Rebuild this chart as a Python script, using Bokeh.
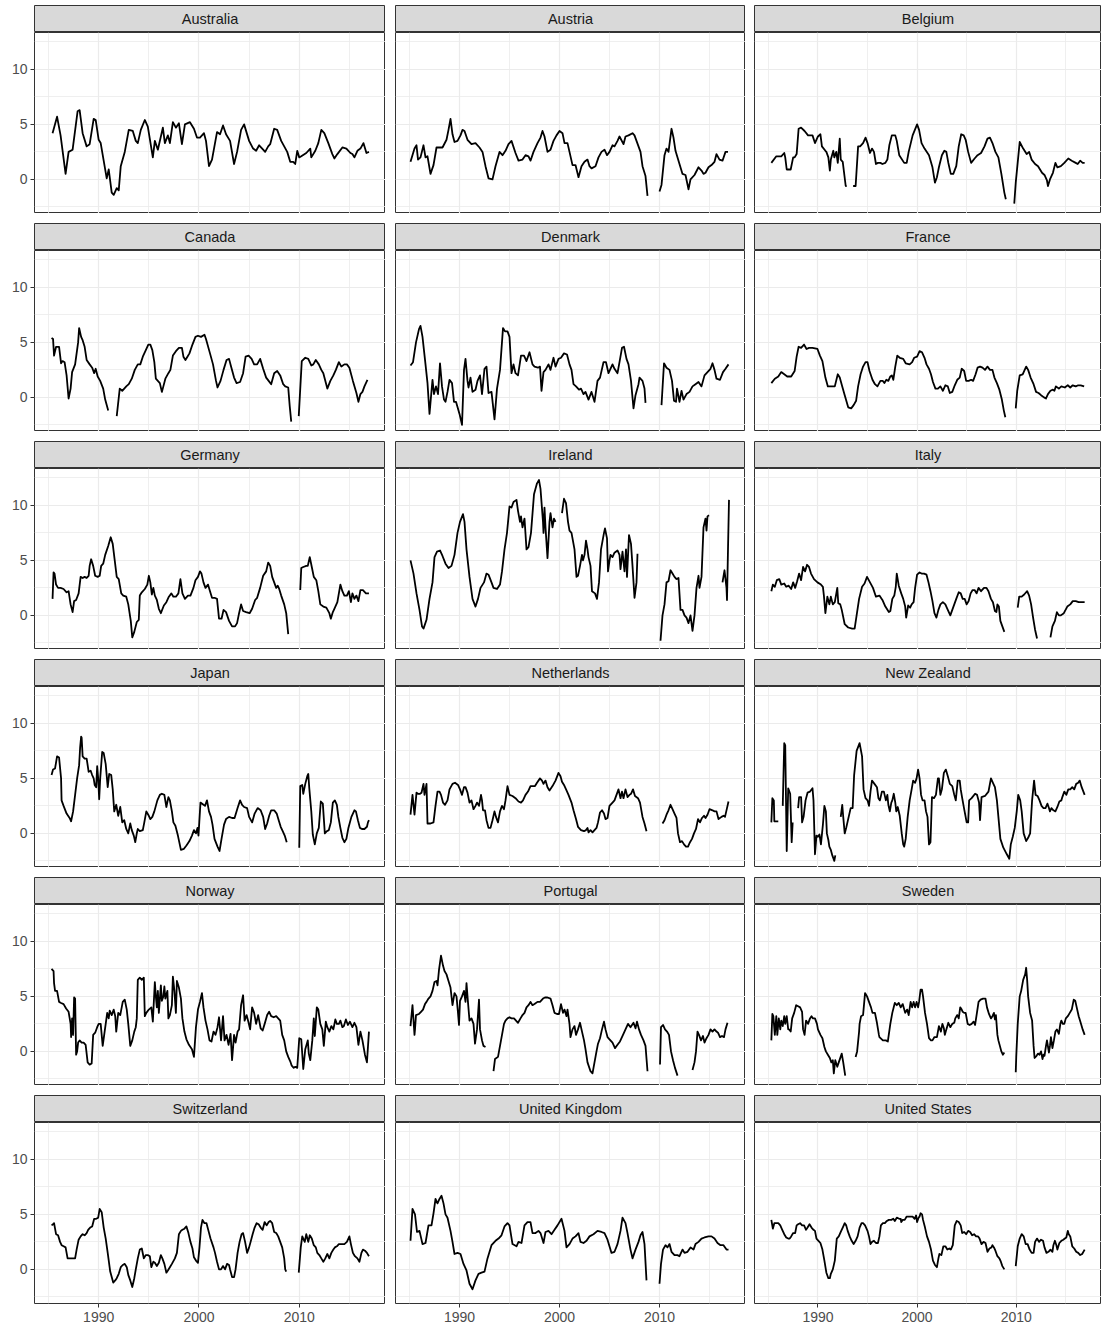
import math
from bokeh.plotting import figure
from bokeh.layouts import gridplot
from bokeh.models import Range1d, FixedTicker
from bokeh.embed import file_html
from bokeh.resources import INLINE
from bokeh.core.properties import value

GAP = None  # break in the series

AUSTRALIA = [(1985.4,4.2),(1985.85,5.7),(1986.2,4.0),(1986.7,0.5),(1987.0,2.5),(1987.4,2.7),(1987.9,6.2),(1988.1,6.3),(1988.4,4.2),(1988.8,3.0),(1989.1,3.2),(1989.5,5.5),(1989.7,5.4),(1990.0,3.6),(1990.2,3.3),(1990.8,0.1),(1991.0,0.9),(1991.3,-1.2),(1991.5,-1.4),(1991.8,-0.8),(1992.0,-1.0),(1992.2,1.2),(1992.6,2.5),(1993.0,4.5),(1993.4,4.4),(1993.7,3.5),(1993.9,3.3),(1994.2,4.5),(1994.6,5.4),(1994.9,4.8),(1995.4,2.0),(1995.6,3.5),(1995.9,2.7),(1996.4,4.7),(1996.6,3.3),(1996.9,4.0),(1997.1,3.3),(1997.4,5.2),(1997.7,4.7),(1998.0,5.1),(1998.3,3.2),(1998.6,5.0),(1999.1,5.2),(1999.5,4.6),(1999.8,3.8),(2000.1,3.8),(2000.5,4.2),(2000.7,3.5),(2001.0,1.2),(2001.3,1.8),(2001.8,4.3),(2002.1,4.1),(2002.4,4.9),(2002.7,4.1),(2003.1,3.5),(2003.5,1.4),(2003.8,2.5),(2004.2,4.5),(2004.5,5.0),(2005.0,3.5),(2005.4,2.8),(2005.7,2.6),(2006.0,3.1),(2006.4,2.7),(2006.6,2.5),(2006.9,3.0),(2007.1,3.2),(2007.5,4.6),(2007.8,4.5),(2008.2,3.5),(2008.5,3.0),(2008.8,2.5),(2009.1,1.6),(2009.4,1.6),(2009.6,1.4),(2009.8,2.6),(2010.0,2.0),(2010.2,2.1),(2010.7,2.4),(2011.1,2.8),(2011.2,2.0),(2011.6,2.6),(2011.9,3.3),(2012.2,4.5),(2012.5,4.2),(2012.9,3.3),(2013.3,2.3),(2013.5,1.9),(2013.8,2.3),(2014.3,2.9),(2014.7,2.8),(2015.1,2.4),(2015.3,2.3),(2015.5,2.0),(2015.8,2.6),(2016.1,2.8),(2016.4,3.3),(2016.7,2.4),(2016.95,2.5)]

AUSTRIA = [(1985.1,1.6),(1985.5,2.8),(1985.7,3.1),(1985.85,1.8),(1986.1,2.0),(1986.4,3.1),(1986.6,2.0),(1986.8,2.1),(1987.1,0.5),(1987.4,1.3),(1987.7,2.9),(1988.05,2.9),(1988.3,2.9),(1988.7,3.6),(1988.9,4.5),(1989.1,5.5),(1989.3,4.1),(1989.5,3.4),(1989.8,3.5),(1990.1,4.0),(1990.3,4.5),(1990.5,4.4),(1990.8,3.6),(1991.2,3.2),(1991.6,3.3),(1992.0,2.9),(1992.3,2.5),(1992.6,1.2),(1992.9,0.1),(1993.3,0.0),(1993.6,1.2),(1994.0,2.5),(1994.3,2.2),(1994.6,2.6),(1994.9,3.2),(1995.2,3.5),(1995.6,2.4),(1995.9,1.7),(1996.3,1.8),(1996.6,2.2),(1996.9,2.1),(1997.1,1.7),(1997.4,2.5),(1997.8,3.3),(1998.1,3.8),(1998.3,4.4),(1998.5,3.9),(1998.8,2.5),(1999.1,2.7),(1999.4,3.5),(1999.7,4.0),(2000.0,4.4),(2000.3,4.2),(2000.5,3.3),(2000.8,3.3),(2001.0,2.5),(2001.3,1.3),(2001.6,1.3),(2001.9,0.2),(2002.2,1.2),(2002.5,1.6),(2002.8,1.8),(2003.0,1.2),(2003.2,1.0),(2003.6,1.2),(2003.9,2.0),(2004.2,2.5),(2004.5,2.7),(2004.75,2.2),(2005.0,2.5),(2005.3,3.1),(2005.5,3.0),(2005.8,3.5),(2006.0,3.9),(2006.4,3.2),(2006.6,3.9),(2006.9,4.0),(2007.3,4.2),(2007.5,4.0),(2007.7,3.5),(2008.1,2.5),(2008.3,1.2),(2008.6,0.3),(2008.8,-1.5),GAP,(2010.0,-1.1),(2010.2,-0.5),(2010.5,2.2),(2010.7,2.8),(2010.9,2.5),(2011.2,4.6),(2011.4,3.8),(2011.6,2.6),(2011.9,1.7),(2012.3,0.5),(2012.6,0.4),(2012.9,-0.9),(2013.1,0.0),(2013.5,0.4),(2013.9,1.1),(2014.2,0.8),(2014.4,0.5),(2014.6,0.6),(2014.9,1.1),(2015.2,1.3),(2015.5,1.6),(2015.7,2.3),(2016.0,1.8),(2016.3,1.7),(2016.6,2.5),(2016.85,2.5)]

BELGIUM = [(1985.3,1.5),(1985.8,2.1),(1986.3,2.1),(1986.6,2.4),(1986.7,2.0),(1986.85,0.9),(1987.25,0.9),(1987.5,2.0),(1987.65,2.0),(1987.85,2.3),(1988.05,4.6),(1988.3,4.7),(1988.65,4.4),(1989.0,4.0),(1989.45,4.0),(1989.7,3.3),(1990.0,3.9),(1990.25,4.1),(1990.4,3.0),(1990.75,2.6),(1990.85,2.5),(1991.05,2.0),(1991.2,0.8),(1991.3,1.8),(1991.55,2.6),(1991.65,2.0),(1991.85,2.5),(1992.0,1.5),(1992.2,3.7),(1992.3,1.8),(1992.5,1.6),(1992.8,-0.6),(1992.9,-0.6),GAP,(1993.55,-0.6),(1993.8,-0.6),(1994.05,3.0),(1994.25,3.0),(1994.55,3.3),(1994.8,3.8),(1995.0,3.3),(1995.25,2.4),(1995.45,2.8),(1995.65,2.5),(1995.85,1.4),(1996.05,1.5),(1996.3,1.5),(1996.5,1.4),(1996.8,1.5),(1997.0,1.8),(1997.2,3.1),(1997.45,4.0),(1997.8,4.0),(1997.95,3.5),(1998.2,2.2),(1998.7,1.5),(1998.95,1.5),(1999.15,2.5),(1999.55,4.0),(2000.0,5.0),(2000.2,4.5),(2000.45,3.3),(2000.75,2.8),(2001.2,2.2),(2001.55,1.1),(2001.8,-0.3),(2002.0,0.2),(2002.2,1.1),(2002.5,2.2),(2002.75,2.6),(2002.95,2.5),(2003.15,1.5),(2003.4,0.5),(2003.65,0.5),(2003.95,1.2),(2004.2,3.0),(2004.45,4.1),(2004.7,4.0),(2004.9,3.6),(2005.15,2.5),(2005.45,1.5),(2005.8,1.9),(2006.1,2.2),(2006.45,2.4),(2006.8,3.0),(2007.1,3.7),(2007.35,3.8),(2007.6,3.3),(2007.9,2.5),(2008.2,2.0),(2008.5,0.5),(2008.8,-1.2),(2008.95,-1.8),GAP,(2009.8,-2.2),(2009.95,-0.3),(2010.35,3.4),(2010.7,2.8),(2011.05,2.3),(2011.3,2.5),(2011.55,1.8),(2011.9,1.4),(2012.2,1.2),(2012.6,0.6),(2012.85,0.4),(2013.1,-0.1),(2013.2,-0.6),(2013.4,0.0),(2013.7,0.6),(2013.95,1.5),(2014.15,1.1),(2014.5,1.2),(2014.85,1.5),(2015.25,1.9),(2015.6,1.7),(2016.0,1.5),(2016.2,1.4),(2016.45,1.7),(2016.7,1.5),(2016.9,1.5)]

CANADA = [(1985.3,5.4),(1985.45,5.3),(1985.55,3.8),(1985.75,4.6),(1986.05,4.6),(1986.25,3.1),(1986.4,3.3),(1986.6,3.2),(1986.8,2.0),(1987.0,-0.1),(1987.2,0.8),(1987.35,2.3),(1987.65,3.0),(1987.95,5.0),(1988.05,6.3),(1988.25,5.5),(1988.4,5.2),(1988.6,4.6),(1988.8,3.4),(1989.1,3.0),(1989.35,2.7),(1989.55,2.2),(1989.7,2.6),(1989.9,1.9),(1990.15,1.5),(1990.45,0.8),(1990.65,-0.2),(1990.95,-1.2),GAP,(1991.8,-1.7),(1992.1,0.8),(1992.35,0.6),(1992.75,1.0),(1993.0,1.2),(1993.3,1.7),(1993.6,2.5),(1993.9,3.0),(1994.15,3.0),(1994.4,3.7),(1994.7,4.3),(1994.95,4.8),(1995.15,4.8),(1995.35,4.3),(1995.55,3.2),(1995.7,1.7),(1996.1,1.3),(1996.3,0.5),(1996.45,1.0),(1996.65,1.7),(1996.95,2.2),(1997.15,2.5),(1997.4,3.8),(1997.7,4.2),(1998.0,4.5),(1998.3,4.5),(1998.45,3.7),(1998.65,3.4),(1998.85,3.7),(1999.05,4.0),(1999.35,4.8),(1999.65,5.5),(1999.9,5.6),(2000.2,5.5),(2000.55,5.7),(2000.7,5.3),(2001.1,4.0),(2001.4,3.0),(2001.7,1.5),(2001.85,0.9),(2002.15,1.5),(2002.45,2.5),(2002.75,3.4),(2003.0,3.5),(2003.2,2.8),(2003.5,1.8),(2003.75,1.3),(2004.1,1.4),(2004.4,2.2),(2004.65,3.7),(2004.95,3.8),(2005.25,3.5),(2005.5,3.0),(2005.8,3.0),(2006.1,3.5),(2006.4,2.6),(2006.7,1.8),(2006.95,1.5),(2007.2,1.2),(2007.5,2.2),(2007.8,2.4),(2008.1,2.0),(2008.4,1.2),(2008.6,1.0),(2008.9,0.9),(2009.05,-0.8),(2009.2,-2.2),GAP,(2009.95,-1.7),(2010.25,3.3),(2010.6,3.6),(2010.9,3.5),(2011.2,2.9),(2011.4,3.0),(2011.65,3.4),(2011.95,3.0),(2012.2,2.5),(2012.4,2.2),(2012.8,0.8),(2013.1,1.5),(2013.4,2.0),(2013.65,2.5),(2013.95,3.2),(2014.2,2.8),(2014.5,3.0),(2014.75,3.0),(2015.0,2.7),(2015.35,1.5),(2015.7,0.4),(2015.9,-0.4),(2016.1,0.3),(2016.3,0.5),(2016.5,1.0),(2016.8,1.6)]

DENMARK = [(1985.1,2.9),(1985.35,3.2),(1985.65,5.0),(1985.95,6.2),(1986.1,6.5),(1986.3,5.5),(1986.6,3.0),(1986.8,1.3),(1987.0,-1.5),(1987.3,1.6),(1987.45,0.3),(1987.65,1.0),(1987.85,0.3),(1988.05,3.1),(1988.25,1.0),(1988.45,-0.2),(1988.6,-0.4),(1988.8,0.5),(1989.0,1.6),(1989.25,1.3),(1989.45,-0.4),(1989.65,-0.4),(1990.0,-1.5),(1990.25,-2.5),(1990.45,2.5),(1990.6,3.5),(1990.8,1.5),(1990.9,0.9),(1991.1,1.8),(1991.3,0.5),(1991.6,0.7),(1991.8,1.5),(1992.05,2.0),(1992.25,0.3),(1992.5,2.6),(1992.7,2.8),(1992.9,0.4),(1993.2,0.5),(1993.5,-2.0),(1993.75,0.8),(1994.05,2.5),(1994.35,6.3),(1994.55,6.0),(1994.8,6.0),(1995.0,5.5),(1995.2,2.2),(1995.4,3.0),(1995.6,2.2),(1995.85,2.0),(1996.15,3.8),(1996.45,3.8),(1996.7,3.3),(1997.0,4.1),(1997.3,3.0),(1997.5,2.8),(1997.85,2.7),(1998.05,2.8),(1998.2,0.6),(1998.4,2.3),(1998.6,2.5),(1998.9,3.0),(1999.1,2.5),(1999.4,3.6),(1999.6,2.8),(1999.9,3.5),(2000.15,3.6),(2000.45,4.0),(2000.75,3.9),(2001.0,3.0),(2001.2,2.5),(2001.4,1.2),(2001.65,1.0),(2001.95,0.7),(2002.15,0.8),(2002.4,0.3),(2002.6,0.5),(2002.9,-0.2),(2003.2,0.5),(2003.5,-0.4),(2003.8,1.5),(2004.05,1.8),(2004.4,3.2),(2004.65,3.2),(2004.9,2.2),(2005.05,2.5),(2005.3,3.0),(2005.5,2.6),(2005.8,2.2),(2006.0,3.2),(2006.25,4.5),(2006.45,4.6),(2006.7,3.5),(2006.9,3.0),(2007.15,1.5),(2007.4,-1.0),(2007.6,0.2),(2007.9,1.2),(2008.0,1.8),(2008.3,1.5),(2008.5,0.8),(2008.6,-0.5),GAP,(2010.2,-0.7),(2010.45,3.1),(2010.7,2.7),(2011.0,2.5),(2011.25,1.5),(2011.45,-0.3),(2011.65,-0.4),(2011.75,0.8),(2012.0,-0.4),(2012.2,0.6),(2012.4,-0.2),(2012.7,0.3),(2013.0,0.5),(2013.3,1.0),(2013.6,1.2),(2013.9,1.4),(2014.2,1.0),(2014.5,2.0),(2014.8,2.3),(2015.1,2.6),(2015.3,3.1),(2015.5,2.5),(2015.7,1.7),(2016.05,1.6),(2016.35,2.3),(2016.6,2.6),(2016.9,3.0)]

FRANCE = [(1985.3,1.3),(1985.65,1.7),(1986.0,1.9),(1986.3,2.3),(1986.6,2.1),(1986.9,1.9),(1987.3,1.9),(1987.65,2.4),(1987.85,3.7),(1988.05,4.6),(1988.3,4.5),(1988.6,4.8),(1988.85,4.4),(1989.1,4.5),(1989.45,4.5),(1989.95,4.4),(1990.2,3.8),(1990.45,3.3),(1990.75,1.8),(1991.0,1.0),(1991.3,1.0),(1991.7,1.0),(1992.0,2.1),(1992.2,1.8),(1992.45,1.0),(1992.7,0.2),(1993.05,-0.9),(1993.35,-1.0),(1993.6,-0.7),(1993.85,-0.3),(1994.05,1.0),(1994.3,2.1),(1994.55,2.8),(1994.8,3.2),(1995.0,3.2),(1995.2,2.4),(1995.5,1.6),(1995.75,1.2),(1996.0,1.0),(1996.3,1.5),(1996.55,1.5),(1996.7,1.3),(1996.9,1.6),(1997.1,1.5),(1997.3,1.9),(1997.45,2.0),(1997.6,1.6),(1997.8,2.8),(1998.0,3.8),(1998.25,3.6),(1998.6,3.5),(1998.85,3.1),(1999.25,3.0),(1999.5,3.2),(1999.7,3.6),(2000.0,3.7),(2000.25,4.2),(2000.5,4.1),(2000.75,3.6),(2000.95,3.0),(2001.2,2.6),(2001.4,2.1),(2001.6,1.4),(2001.85,0.8),(2002.1,0.8),(2002.35,1.0),(2002.6,0.6),(2002.85,1.1),(2003.1,1.0),(2003.3,0.4),(2003.55,0.5),(2003.8,1.1),(2004.05,1.6),(2004.3,1.8),(2004.5,2.6),(2004.75,2.4),(2004.95,1.5),(2005.2,1.5),(2005.45,1.6),(2005.65,1.5),(2005.9,2.1),(2006.1,2.7),(2006.35,2.8),(2006.6,2.7),(2006.85,2.5),(2007.1,2.8),(2007.35,2.5),(2007.6,2.5),(2007.8,1.8),(2008.05,1.3),(2008.3,0.7),(2008.55,-0.2),(2008.75,-1.2),(2008.9,-1.8),GAP,(2009.95,-1.0),(2010.1,0.6),(2010.35,2.0),(2010.65,2.1),(2011.0,2.8),(2011.2,2.5),(2011.45,1.8),(2011.75,1.2),(2012.0,0.5),(2012.25,0.4),(2012.5,0.2),(2012.8,0.0),(2013.0,-0.1),(2013.2,0.3),(2013.45,0.6),(2013.7,0.7),(2013.85,0.6),(2014.0,1.0),(2014.3,0.8),(2014.55,1.0),(2014.9,0.9),(2015.2,1.1),(2015.45,0.9),(2015.7,1.1),(2016.0,1.0),(2016.25,1.1),(2016.5,1.1),(2016.85,1.0)]

GERMANY = [(1985.4,1.5),(1985.5,3.9),(1985.6,3.8),(1985.75,2.8),(1985.95,2.5),(1986.2,2.5),(1986.5,2.4),(1986.8,2.1),(1987.0,2.2),(1987.2,1.0),(1987.4,0.3),(1987.55,1.3),(1987.75,1.4),(1988.0,2.0),(1988.2,3.5),(1988.4,3.4),(1988.6,3.5),(1988.8,3.4),(1989.0,3.6),(1989.1,4.5),(1989.25,5.1),(1989.45,4.5),(1989.65,3.6),(1989.9,3.5),(1990.1,3.6),(1990.25,4.5),(1990.45,4.7),(1990.65,5.5),(1990.95,6.3),(1991.2,7.1),(1991.4,6.5),(1991.6,5.0),(1991.8,3.5),(1992.0,3.3),(1992.25,2.0),(1992.45,1.8),(1992.75,1.7),(1992.95,1.0),(1993.2,-0.5),(1993.35,-2.0),(1993.55,-1.5),(1993.8,-0.6),(1994.0,-0.4),(1994.1,1.8),(1994.3,2.1),(1994.6,2.4),(1994.85,2.8),(1995.0,3.6),(1995.15,3.0),(1995.3,1.9),(1995.45,2.5),(1995.6,1.8),(1995.8,1.4),(1996.0,0.6),(1996.2,0.2),(1996.5,0.9),(1996.75,1.2),(1997.0,1.7),(1997.25,2.0),(1997.45,1.7),(1997.7,1.7),(1997.95,2.0),(1998.15,3.3),(1998.35,2.0),(1998.6,1.5),(1998.9,1.8),(1999.15,1.8),(1999.45,2.5),(1999.65,3.2),(1999.9,3.5),(2000.1,4.0),(2000.25,3.8),(2000.45,3.0),(2000.65,2.5),(2000.9,2.8),(2001.1,2.2),(2001.3,1.6),(2001.55,1.6),(2001.8,1.5),(2002.0,-0.3),(2002.25,-0.3),(2002.45,0.5),(2002.7,0.3),(2003.0,-0.5),(2003.3,-1.0),(2003.6,-1.0),(2003.8,-0.7),(2004.0,0.2),(2004.2,1.0),(2004.4,0.4),(2004.7,0.3),(2005.05,0.2),(2005.3,0.6),(2005.6,1.4),(2005.8,1.6),(2006.1,2.5),(2006.4,3.6),(2006.7,4.0),(2006.9,4.8),(2007.1,4.5),(2007.3,3.5),(2007.5,3.0),(2007.7,2.5),(2007.85,2.7),(2008.0,2.4),(2008.2,1.8),(2008.5,1.0),(2008.7,0.2),(2008.9,-1.7),GAP,(2010.1,2.3),(2010.2,4.3),(2010.4,4.4),(2010.7,4.5),(2010.85,4.5),(2011.05,5.3),(2011.25,4.4),(2011.45,3.5),(2011.7,3.2),(2011.9,2.2),(2012.1,1.0),(2012.4,0.8),(2012.7,0.7),(2013.0,0.2),(2013.15,-0.3),(2013.35,0.3),(2013.5,0.6),(2013.8,1.2),(2014.1,2.8),(2014.3,2.2),(2014.5,1.8),(2014.75,1.8),(2014.95,2.2),(2015.15,1.2),(2015.3,2.0),(2015.5,1.5),(2015.7,1.8),(2015.9,1.3),(2016.1,2.3),(2016.35,2.3),(2016.65,2.0),(2016.95,2.0)]

IRELAND = [(1985.1,5.0),(1985.4,3.8),(1985.7,2.0),(1986.0,0.5),(1986.25,-1.0),(1986.4,-1.2),(1986.7,-0.4),(1987.0,1.5),(1987.3,3.0),(1987.5,5.3),(1987.75,5.8),(1988.05,5.9),(1988.3,5.4),(1988.6,4.7),(1988.9,4.3),(1989.2,4.5),(1989.5,5.5),(1989.8,7.5),(1990.05,8.5),(1990.35,9.2),(1990.5,8.5),(1990.7,6.0),(1991.0,3.5),(1991.3,1.5),(1991.6,0.8),(1991.85,1.5),(1992.1,2.5),(1992.45,3.0),(1992.7,3.8),(1992.9,3.7),(1993.2,3.0),(1993.4,2.5),(1993.75,2.4),(1994.05,2.8),(1994.25,4.0),(1994.5,6.0),(1994.75,7.5),(1995.0,9.9),(1995.2,9.8),(1995.4,10.3),(1995.7,10.5),(1995.85,9.5),(1996.05,8.5),(1996.15,9.0),(1996.3,8.0),(1996.5,8.8),(1996.7,6.0),(1996.9,6.2),(1997.15,7.5),(1997.45,11.0),(1997.75,12.0),(1997.95,12.3),(1998.1,11.5),(1998.35,8.5),(1998.4,7.5),(1998.5,9.8),(1998.6,8.0),(1998.8,5.2),(1999.0,8.5),(1999.1,9.3),(1999.3,8.0),(1999.45,8.8),(1999.6,8.5),GAP,(2000.25,9.3),(2000.45,10.6),(2000.65,10.2),(2000.85,8.5),(2001.0,7.7),(2001.2,7.5),(2001.5,6.0),(2001.7,3.5),(2001.85,3.6),(2002.05,4.5),(2002.25,5.5),(2002.35,5.0),(2002.5,5.5),(2002.65,6.8),(2002.8,6.0),(2002.9,5.3),(2003.1,4.5),(2003.25,2.2),(2003.55,2.0),(2003.75,1.5),(2003.95,3.0),(2004.15,6.0),(2004.45,7.5),(2004.55,7.9),(2004.75,7.0),(2004.85,4.0),(2005.0,5.0),(2005.1,5.5),(2005.3,5.3),(2005.5,5.7),(2005.8,5.9),(2006.0,5.5),(2006.1,4.2),(2006.3,5.8),(2006.5,4.0),(2006.65,6.0),(2006.75,3.5),(2006.95,7.3),(2007.15,6.5),(2007.3,4.5),(2007.5,1.6),(2007.7,3.0),(2007.8,5.6),GAP,(2010.1,-2.3),(2010.3,0.0),(2010.5,1.0),(2010.7,3.0),(2010.9,3.1),(2011.1,4.1),(2011.3,3.8),(2011.5,3.5),(2011.7,3.3),(2011.9,3.4),(2012.1,0.5),(2012.3,0.5),(2012.5,0.0),(2012.7,-0.2),(2012.9,-0.7),(2013.1,0.0),(2013.3,-1.4),(2013.5,0.0),(2013.7,2.5),(2013.9,3.6),(2014.0,2.5),(2014.2,3.5),(2014.4,8.0),(2014.6,8.8),(2014.7,7.7),(2014.8,9.0),(2014.95,9.1),GAP,(2016.3,3.0),(2016.5,4.1),(2016.7,2.5),(2016.75,1.4),(2016.85,6.0),(2016.95,10.5)]

ITALY = [(1985.3,2.2),(1985.45,2.8),(1985.65,2.6),(1985.85,3.2),(1986.1,3.3),(1986.3,2.8),(1986.6,2.9),(1986.8,2.6),(1987.05,2.7),(1987.3,2.4),(1987.5,3.0),(1987.7,2.5),(1987.9,3.1),(1988.1,3.8),(1988.3,3.2),(1988.5,4.4),(1988.7,4.0),(1988.9,4.6),(1989.1,4.4),(1989.3,3.8),(1989.6,3.3),(1989.95,3.0),(1990.3,2.8),(1990.5,2.6),(1990.6,1.8),(1990.75,0.2),(1990.95,1.7),(1991.15,1.0),(1991.3,1.7),(1991.5,1.0),(1991.7,1.2),(1991.95,2.5),(1992.05,1.1),(1992.25,1.0),(1992.4,0.5),(1992.7,-0.8),(1993.05,-1.1),(1993.45,-1.2),(1993.7,-1.2),(1993.9,0.0),(1994.15,1.5),(1994.45,2.6),(1994.7,2.9),(1994.95,3.5),(1995.25,3.0),(1995.55,2.5),(1995.85,1.7),(1996.2,1.8),(1996.5,1.4),(1996.8,0.8),(1997.15,0.3),(1997.3,0.4),(1997.5,1.5),(1997.7,1.8),(1997.85,2.6),(1997.95,3.8),(1998.15,2.7),(1998.4,2.0),(1998.6,1.5),(1998.8,0.8),(1998.9,-0.2),(1999.1,0.9),(1999.3,0.7),(1999.45,1.0),(1999.65,1.2),(1999.8,2.5),(2000.0,3.7),(2000.25,3.9),(2000.45,3.8),(2000.7,3.8),(2000.95,3.7),(2001.15,3.0),(2001.35,2.2),(2001.55,1.3),(2001.75,0.2),(2001.95,-0.2),(2002.15,0.5),(2002.35,1.0),(2002.6,1.2),(2002.85,1.0),(2003.05,0.6),(2003.35,0.0),(2003.55,0.5),(2003.75,1.0),(2003.95,1.5),(2004.2,2.1),(2004.4,2.0),(2004.6,1.5),(2004.8,1.5),(2005.0,1.0),(2005.2,1.3),(2005.4,2.0),(2005.6,2.3),(2005.8,2.3),(2006.0,2.0),(2006.2,2.5),(2006.45,2.2),(2006.75,2.5),(2007.0,2.5),(2007.2,2.2),(2007.45,1.5),(2007.65,1.2),(2007.85,0.4),(2008.0,0.3),(2008.1,1.0),(2008.25,0.8),(2008.4,-0.5),(2008.6,-1.0),(2008.8,-1.5),GAP,(2010.15,0.7),(2010.3,1.7),(2010.55,1.7),(2010.8,1.9),(2011.1,2.2),(2011.3,1.8),(2011.5,1.0),(2011.7,-0.2),(2011.9,-1.3),(2012.1,-2.1),GAP,(2013.45,-2.0),(2013.65,-1.0),(2013.9,-0.5),(2014.1,0.3),(2014.3,0.0),(2014.5,0.0),(2014.8,0.2),(2015.15,0.8),(2015.45,1.0),(2015.7,1.3),(2016.0,1.3),(2016.3,1.2),(2016.65,1.2),(2016.9,1.2)]

JAPAN = [(1985.3,5.3),(1985.45,5.8),(1985.65,5.9),(1985.85,7.0),(1986.05,6.9),(1986.25,5.0),(1986.3,3.0),(1986.5,2.5),(1986.8,1.8),(1987.1,1.4),(1987.25,1.1),(1987.45,2.0),(1987.65,3.5),(1987.85,5.0),(1988.05,6.2),(1988.15,7.8),(1988.25,8.8),(1988.3,8.7),(1988.4,7.0),(1988.6,6.8),(1988.8,6.8),(1989.0,5.6),(1989.2,5.7),(1989.35,5.3),(1989.5,5.0),(1989.6,4.4),(1989.75,4.2),(1989.85,6.1),(1989.95,5.0),(1990.05,3.1),(1990.15,5.0),(1990.35,7.4),(1990.5,7.3),(1990.7,6.3),(1990.9,4.2),(1991.05,5.4),(1991.25,5.3),(1991.4,4.0),(1991.55,2.0),(1991.75,2.6),(1991.95,1.6),(1992.15,2.4),(1992.35,1.0),(1992.55,1.2),(1992.75,0.4),(1992.95,0.0),(1993.15,0.9),(1993.3,0.3),(1993.5,-0.2),(1993.65,-0.8),(1993.8,0.0),(1993.9,0.4),(1994.1,0.2),(1994.4,0.3),(1994.55,1.0),(1994.75,2.0),(1995.0,1.6),(1995.15,1.3),(1995.35,1.5),(1995.55,2.0),(1995.85,3.0),(1996.1,3.5),(1996.3,3.6),(1996.55,3.5),(1996.75,2.4),(1996.95,3.3),(1997.1,3.0),(1997.3,2.0),(1997.45,1.0),(1997.65,0.7),(1997.9,-0.2),(1998.2,-1.5),(1998.5,-1.4),(1998.75,-1.1),(1999.05,-0.7),(1999.3,-0.2),(1999.5,0.3),(1999.7,0.0),(1999.85,0.5),(1999.95,-0.2),(2000.15,2.8),(2000.45,2.6),(2000.6,2.5),(2000.8,3.0),(2001.0,2.0),(2001.2,1.5),(2001.35,0.8),(2001.55,-0.5),(2001.85,-1.2),(2002.05,-1.6),(2002.25,-0.5),(2002.5,0.8),(2002.7,1.3),(2003.0,1.5),(2003.3,1.4),(2003.55,1.4),(2003.85,2.3),(2004.1,3.0),(2004.3,2.6),(2004.5,2.4),(2004.8,2.3),(2005.0,1.5),(2005.3,1.0),(2005.55,1.8),(2005.85,2.3),(2006.15,2.1),(2006.4,1.5),(2006.6,0.4),(2006.8,0.9),(2007.0,1.6),(2007.2,2.1),(2007.5,2.1),(2007.75,1.8),(2007.95,1.2),(2008.15,0.6),(2008.35,0.2),(2008.55,-0.2),(2008.75,-0.8),GAP,(2010.0,-1.3),(2010.1,4.3),(2010.3,4.4),(2010.4,3.6),(2010.6,4.5),(2010.8,5.2),(2010.9,5.4),(2011.0,4.1),(2011.2,2.0),(2011.35,-0.1),(2011.55,-1.0),(2011.75,0.0),(2011.95,0.5),(2012.15,2.9),(2012.35,2.7),(2012.55,0.0),(2012.75,0.2),(2012.95,0.3),(2013.15,1.0),(2013.35,2.8),(2013.55,3.0),(2013.75,2.6),(2013.9,1.5),(2014.1,0.5),(2014.3,-0.4),(2014.5,-0.8),(2014.7,-0.5),(2014.9,0.5),(2015.2,1.5),(2015.5,2.1),(2015.65,2.0),(2015.85,1.2),(2016.05,0.5),(2016.25,0.4),(2016.5,0.4),(2016.75,0.6),(2016.85,1.0),(2016.95,1.2)]

NETHERLANDS = [(1985.1,1.7),(1985.3,3.5),(1985.5,1.7),(1985.7,3.7),(1985.85,3.6),(1986.05,3.6),(1986.2,3.7),(1986.4,4.5),(1986.5,3.5),(1986.7,4.5),(1986.8,0.9),(1987.1,0.9),(1987.4,1.0),(1987.6,2.5),(1987.8,3.8),(1988.0,3.8),(1988.15,3.5),(1988.35,2.8),(1988.55,2.6),(1988.8,3.0),(1989.0,4.0),(1989.3,4.5),(1989.55,4.6),(1989.85,4.4),(1990.05,4.0),(1990.25,3.5),(1990.45,4.2),(1990.6,4.2),(1990.8,3.7),(1991.0,2.8),(1991.2,3.0),(1991.4,2.2),(1991.6,2.5),(1991.75,2.8),(1991.95,2.5),(1992.15,3.5),(1992.25,3.0),(1992.35,2.1),(1992.55,2.1),(1992.7,1.2),(1992.9,0.5),(1993.1,0.5),(1993.3,1.2),(1993.5,2.0),(1993.65,1.5),(1993.85,1.0),(1994.05,2.0),(1994.25,2.5),(1994.45,2.2),(1994.6,3.0),(1994.8,4.3),(1995.0,3.5),(1995.3,3.4),(1995.6,3.2),(1995.9,2.9),(1996.15,2.8),(1996.35,3.0),(1996.6,3.5),(1996.85,3.8),(1997.1,4.3),(1997.35,4.3),(1997.55,4.3),(1997.75,4.6),(1998.05,5.0),(1998.25,4.8),(1998.4,4.5),(1998.6,4.8),(1998.8,4.2),(1999.0,3.9),(1999.3,4.3),(1999.6,4.8),(1999.9,5.5),(2000.1,5.2),(2000.25,4.7),(2000.45,4.4),(2000.7,3.9),(2000.9,3.5),(2001.2,2.8),(2001.4,2.1),(2001.65,1.3),(2001.85,0.6),(2002.15,0.3),(2002.45,0.2),(2002.65,0.3),(2002.8,0.5),(2002.9,0.1),(2003.1,0.3),(2003.3,0.1),(2003.5,0.3),(2003.7,0.5),(2003.85,1.0),(2004.05,1.9),(2004.25,2.1),(2004.45,1.8),(2004.6,1.3),(2004.8,1.4),(2005.0,2.5),(2005.3,2.8),(2005.5,3.0),(2005.7,3.5),(2005.9,4.0),(2006.1,3.2),(2006.25,3.8),(2006.4,3.2),(2006.6,4.0),(2006.8,3.3),(2007.0,3.5),(2007.15,3.6),(2007.35,4.0),(2007.55,3.4),(2007.85,3.2),(2008.05,2.8),(2008.3,1.5),(2008.5,0.9),(2008.7,0.2),GAP,(2010.3,0.9),(2010.5,1.2),(2010.7,1.7),(2010.9,2.1),(2011.1,2.6),(2011.3,2.2),(2011.5,1.8),(2011.7,1.4),(2011.85,0.0),(2012.05,-0.8),(2012.25,-0.7),(2012.45,-1.0),(2012.65,-1.2),(2012.85,-1.2),(2013.05,-0.8),(2013.25,-0.5),(2013.45,0.0),(2013.65,0.4),(2013.85,1.3),(2014.05,1.0),(2014.25,1.4),(2014.45,1.6),(2014.6,1.4),(2014.8,1.7),(2015.0,2.2),(2015.3,2.1),(2015.5,2.0),(2015.7,2.0),(2015.9,1.3),(2016.2,1.5),(2016.4,1.6),(2016.55,1.5),(2016.75,2.3),(2016.9,2.9)]

NEW_ZEALAND = [(1985.3,1.0),(1985.4,3.2),(1985.55,3.0),(1985.6,1.1),(1986.0,1.1),GAP,(1986.45,2.5),(1986.6,8.2),(1986.7,8.0),(1986.85,-1.6),(1987.0,4.1),(1987.2,3.6),(1987.35,-0.8),(1987.45,1.0),GAP,(1988.0,2.3),(1988.1,3.3),(1988.3,3.3),(1988.4,1.0),(1988.55,1.5),(1988.75,3.0),(1988.95,3.7),(1989.2,3.8),(1989.45,4.1),(1989.55,3.0),(1989.7,-1.9),(1989.85,-0.2),(1990.0,-0.3),(1990.15,-0.1),(1990.3,-1.0),(1990.5,0.8),(1990.65,2.5),(1990.8,2.0),(1990.9,0.0),(1991.05,-0.6),(1991.15,-1.2),(1991.3,-1.5),(1991.45,-2.0),(1991.65,-2.5),(1991.75,-2.0),GAP,(1992.3,1.5),(1992.45,2.6),(1992.55,1.5),(1992.7,0.0),(1992.85,0.5),(1993.1,1.5),(1993.3,2.3),(1993.5,2.3),(1993.65,5.3),(1993.9,7.5),(1994.2,8.2),(1994.45,7.0),(1994.6,4.0),(1994.8,3.2),(1995.0,3.0),(1995.15,2.5),(1995.3,3.8),(1995.45,4.8),(1995.7,4.5),(1995.95,4.2),(1996.1,3.2),(1996.25,3.0),(1996.45,3.8),(1996.65,3.8),(1996.85,3.0),(1997.0,3.5),(1997.1,2.6),(1997.25,2.0),(1997.4,2.8),(1997.5,3.0),(1997.65,3.6),(1997.8,2.8),(1997.9,2.0),(1998.05,2.4),(1998.25,1.6),(1998.45,0.0),(1998.6,-1.0),(1998.7,-1.2),(1998.85,-0.5),(1999.05,1.5),(1999.25,3.0),(1999.45,4.0),(1999.6,4.8),(1999.8,4.6),(1999.95,5.0),(2000.1,5.8),(2000.25,5.0),(2000.4,3.5),(2000.55,3.0),(2000.75,3.0),(2000.9,2.0),(2001.05,1.5),(2001.2,-1.0),(2001.35,-0.8),(2001.5,3.3),(2001.7,3.2),(2001.9,3.5),(2002.1,5.0),(2002.2,5.0),(2002.35,3.5),(2002.5,4.0),(2002.7,5.5),(2002.9,5.8),(2003.1,5.2),(2003.3,4.5),(2003.55,4.3),(2003.75,3.5),(2003.9,3.0),(2004.1,4.8),(2004.3,4.8),(2004.4,4.0),(2004.55,3.2),(2004.75,2.2),(2005.0,1.0),(2005.15,1.0),(2005.25,3.0),(2005.5,3.2),(2005.85,3.6),(2006.05,3.5),(2006.25,2.8),(2006.35,1.2),(2006.5,3.3),(2006.85,3.4),(2007.2,3.8),(2007.45,5.0),(2007.65,4.6),(2007.85,4.2),(2008.05,3.0),(2008.2,1.5),(2008.4,-0.5),(2008.7,-1.3),(2009.05,-1.9),(2009.3,-2.3),(2009.45,-1.0),(2009.65,-0.3),(2009.85,0.5),(2010.05,2.0),(2010.2,3.5),(2010.4,3.0),(2010.55,2.0),(2010.75,0.0),(2011.0,-0.7),(2011.2,-0.4),(2011.4,0.0),(2011.6,3.0),(2011.8,4.8),(2011.95,3.5),(2012.15,3.4),(2012.35,3.0),(2012.55,2.5),(2012.75,2.3),(2012.95,2.3),(2013.15,2.7),(2013.3,2.3),(2013.4,2.0),(2013.55,2.3),(2013.75,2.1),(2013.95,2.0),(2014.15,2.4),(2014.35,2.9),(2014.55,3.0),(2014.65,3.3),(2014.85,3.8),(2015.05,3.5),(2015.25,4.0),(2015.45,4.0),(2015.65,4.2),(2015.85,4.0),(2016.05,4.5),(2016.25,4.6),(2016.4,4.8),(2016.6,4.2),(2016.9,3.5)]

NORWAY = [(1985.3,7.5),(1985.5,7.3),(1985.55,6.2),(1985.65,5.5),(1985.85,5.5),(1986.05,4.5),(1986.25,4.4),(1986.5,4.3),(1986.75,3.9),(1987.0,3.6),(1987.2,2.5),(1987.25,1.3),(1987.35,3.0),(1987.45,1.5),(1987.55,4.9),(1987.65,4.8),(1987.75,-0.3),(1987.85,0.0),(1987.95,0.8),(1988.1,1.0),(1988.3,0.8),(1988.5,0.8),(1988.7,0.6),(1988.9,-1.0),(1989.1,-1.2),(1989.3,-1.1),(1989.45,1.5),(1989.65,1.7),(1989.85,2.2),(1990.0,2.5),(1990.2,2.5),(1990.4,0.5),(1990.55,1.5),(1990.7,2.5),(1990.85,3.5),(1991.0,3.0),(1991.1,3.7),(1991.3,3.3),(1991.5,3.8),(1991.65,3.2),(1991.75,1.8),(1991.95,3.5),(1992.15,3.3),(1992.4,4.5),(1992.6,4.7),(1992.8,3.8),(1992.95,2.5),(1993.15,0.5),(1993.35,1.0),(1993.55,1.8),(1993.7,2.2),(1993.8,3.0),(1993.9,6.5),(1994.1,6.7),(1994.3,6.5),(1994.5,6.7),(1994.6,3.2),(1994.75,3.5),(1995.0,3.8),(1995.25,4.0),(1995.4,2.7),(1995.6,6.3),(1995.7,5.0),(1995.8,4.0),(1995.9,5.5),(1996.0,3.5),(1996.2,6.0),(1996.3,4.6),(1996.45,5.0),(1996.55,5.9),(1996.65,4.8),(1996.85,5.5),(1996.95,3.0),(1997.1,3.3),(1997.3,4.2),(1997.4,6.8),(1997.55,5.5),(1997.7,3.5),(1997.8,6.4),(1998.0,5.8),(1998.2,4.8),(1998.35,3.0),(1998.55,1.8),(1998.75,1.1),(1999.0,0.6),(1999.3,0.2),(1999.5,-0.5),(1999.7,2.2),(1999.9,3.8),(2000.1,4.5),(2000.3,5.3),(2000.45,4.0),(2000.65,2.8),(2000.85,2.0),(2001.05,1.0),(2001.25,0.9),(2001.45,1.8),(2001.65,1.5),(2001.85,2.2),(2002.0,3.1),(2002.2,1.0),(2002.4,3.2),(2002.55,1.0),(2002.75,1.5),(2002.95,0.6),(2003.15,1.6),(2003.3,-0.8),(2003.5,1.5),(2003.65,0.8),(2003.85,1.8),(2004.0,2.0),(2004.2,4.2),(2004.4,5.1),(2004.55,2.8),(2004.75,3.3),(2004.95,2.6),(2005.1,2.0),(2005.3,4.0),(2005.5,3.5),(2005.7,2.5),(2005.9,3.3),(2006.15,2.1),(2006.35,1.9),(2006.55,2.5),(2006.8,3.3),(2007.0,3.6),(2007.2,3.2),(2007.45,3.1),(2007.7,3.2),(2007.9,3.0),(2008.1,2.8),(2008.3,1.5),(2008.5,1.0),(2008.7,0.0),(2008.9,-0.5),(2009.1,-0.9),(2009.25,-1.3),(2009.45,-1.5),(2009.6,-1.4),(2009.8,-1.5),(2010.0,1.2),(2010.2,1.1),(2010.4,-1.6),(2010.6,0.2),(2010.85,1.0),(2010.95,-0.2),(2011.1,-0.8),(2011.3,1.0),(2011.45,3.0),(2011.55,1.4),(2011.75,4.0),(2011.9,3.8),(2012.1,2.5),(2012.3,2.0),(2012.45,0.5),(2012.65,2.7),(2012.8,2.2),(2013.0,1.8),(2013.2,2.3),(2013.4,2.0),(2013.6,2.9),(2013.75,2.5),(2013.95,2.5),(2014.1,2.8),(2014.3,2.2),(2014.45,2.3),(2014.65,2.9),(2014.85,2.4),(2015.05,2.7),(2015.3,2.2),(2015.5,2.6),(2015.7,2.2),(2015.9,0.6),(2016.1,1.8),(2016.3,1.0),(2016.55,-0.3),(2016.75,-1.0),(2016.95,1.8)]

PORTUGAL = [(1985.1,2.3),(1985.3,4.2),(1985.5,1.5),(1985.55,2.0),(1985.65,3.3),(1985.95,3.4),(1986.15,3.6),(1986.35,3.8),(1986.55,4.3),(1986.7,4.5),(1986.9,4.8),(1987.1,5.0),(1987.3,5.5),(1987.5,6.3),(1987.7,6.4),(1987.8,6.0),(1987.95,7.4),(1988.15,8.7),(1988.35,7.8),(1988.5,7.3),(1988.7,7.0),(1988.9,6.4),(1989.1,5.8),(1989.3,4.2),(1989.5,5.3),(1989.7,5.0),(1989.85,3.5),(1989.95,2.4),(1990.05,4.6),(1990.25,5.0),(1990.45,5.5),(1990.6,4.5),(1990.7,6.2),(1990.8,5.0),(1991.0,2.8),(1991.2,3.0),(1991.4,2.5),(1991.55,0.7),(1991.75,2.0),(1991.95,4.7),(1992.05,2.0),(1992.25,1.0),(1992.4,0.5),(1992.6,0.4),GAP,(1993.4,-1.8),(1993.55,-0.7),(1993.85,-0.5),(1994.15,1.0),(1994.45,2.5),(1994.6,2.8),(1994.8,3.0),(1995.0,3.1),(1995.2,3.0),(1995.45,3.0),(1995.65,2.8),(1995.85,2.6),(1996.1,3.0),(1996.3,3.3),(1996.5,3.5),(1996.7,4.0),(1996.9,4.2),(1997.1,4.5),(1997.3,4.2),(1997.5,4.3),(1997.8,4.5),(1998.05,4.5),(1998.35,4.8),(1998.55,4.9),(1998.8,4.9),(1999.1,4.8),(1999.3,4.2),(1999.5,3.5),(1999.75,3.4),(1999.95,3.4),(2000.15,4.3),(2000.35,3.5),(2000.5,3.8),(2000.7,3.2),(2000.8,3.8),(2001.0,2.5),(2001.1,1.3),(2001.3,2.0),(2001.5,2.3),(2001.65,1.5),(2001.85,2.0),(2002.05,2.6),(2002.25,1.8),(2002.45,1.0),(2002.6,0.2),(2002.8,-1.0),(2003.1,-1.8),(2003.3,-2.0),(2003.5,-1.0),(2003.7,0.0),(2003.85,0.7),(2004.05,1.2),(2004.25,2.0),(2004.45,2.7),(2004.6,2.0),(2004.8,1.3),(2005.0,1.1),(2005.3,0.8),(2005.55,0.3),(2005.8,0.6),(2006.05,0.9),(2006.35,1.5),(2006.6,2.0),(2006.85,2.5),(2007.1,2.2),(2007.4,2.6),(2007.6,2.1),(2007.75,2.7),(2007.95,2.0),(2008.15,1.5),(2008.4,1.0),(2008.6,0.5),(2008.8,-1.8),GAP,(2010.05,-1.2),(2010.15,2.2),(2010.35,2.4),(2010.55,2.0),(2010.75,1.8),(2010.95,1.5),(2011.15,0.0),(2011.35,-0.8),(2011.55,-1.5),(2011.8,-2.2),GAP,(2013.3,-1.7),(2013.5,-1.0),(2013.65,0.0),(2013.8,1.8),(2013.95,1.5),(2014.15,1.0),(2014.35,1.4),(2014.5,0.8),(2014.7,1.2),(2014.9,1.5),(2015.1,2.0),(2015.3,1.8),(2015.5,2.0),(2015.7,1.8),(2015.85,1.7),(2016.05,1.3),(2016.25,1.4),(2016.45,1.3),(2016.6,2.0),(2016.8,2.6)]

SWEDEN = [(1985.3,1.0),(1985.4,3.4),(1985.5,3.2),(1985.65,1.5),(1985.8,3.2),(1985.9,1.5),(1986.05,3.0),(1986.2,2.0),(1986.3,2.8),(1986.45,2.3),(1986.6,3.2),(1986.7,2.5),(1986.85,3.2),(1987.0,2.0),(1987.1,2.0),(1987.25,1.8),(1987.4,3.0),(1987.6,3.5),(1987.8,4.2),(1988.0,4.1),(1988.2,4.0),(1988.4,3.6),(1988.5,2.0),(1988.65,1.5),(1988.8,2.8),(1989.0,2.5),(1989.2,3.0),(1989.35,3.2),(1989.5,3.0),(1989.7,3.0),(1989.9,2.5),(1990.0,2.0),(1990.25,1.5),(1990.45,1.2),(1990.65,0.4),(1990.8,0.0),(1991.0,-0.3),(1991.2,-0.6),(1991.35,-1.0),(1991.5,-0.8),(1991.6,-2.0),(1991.75,-0.8),(1991.95,-1.4),(1992.1,-1.0),(1992.4,-0.2),(1992.55,-1.0),(1992.75,-2.2),GAP,(1993.8,-0.5),(1993.95,0.0),(1994.15,1.8),(1994.2,2.5),(1994.35,3.2),(1994.55,3.3),(1994.75,5.3),(1994.95,5.0),(1995.15,4.5),(1995.35,4.0),(1995.5,3.5),(1995.75,3.5),(1995.95,2.6),(1996.15,1.5),(1996.2,1.3),(1996.55,1.0),(1996.85,1.0),(1997.05,0.9),(1997.3,2.5),(1997.5,3.5),(1997.75,4.4),(1997.95,4.2),(1998.15,4.4),(1998.35,4.0),(1998.55,4.3),(1998.8,3.5),(1999.0,3.8),(1999.15,3.3),(1999.35,4.5),(1999.5,4.0),(1999.65,4.5),(1999.8,4.0),(1999.95,4.5),(2000.1,4.0),(2000.2,4.5),(2000.35,5.6),(2000.5,5.6),(2000.6,5.0),(2000.8,3.5),(2001.0,2.5),(2001.2,1.2),(2001.4,1.0),(2001.55,1.0),(2001.75,1.3),(2002.0,1.3),(2002.2,2.3),(2002.4,1.8),(2002.55,2.5),(2002.7,2.1),(2002.8,1.5),(2002.95,2.0),(2003.15,2.6),(2003.35,2.2),(2003.55,2.5),(2003.75,2.6),(2003.85,3.0),(2004.05,3.3),(2004.2,3.0),(2004.35,4.0),(2004.5,3.8),(2004.6,3.6),(2004.75,3.5),(2004.9,3.5),(2005.1,2.5),(2005.3,2.4),(2005.5,2.5),(2005.7,2.7),(2005.85,2.4),(2006.05,3.6),(2006.2,4.5),(2006.4,4.7),(2006.65,4.8),(2006.9,4.8),(2007.05,4.0),(2007.25,3.4),(2007.45,3.0),(2007.6,3.2),(2007.75,3.5),(2007.85,2.9),(2007.95,3.3),(2008.1,1.5),(2008.2,1.0),(2008.35,0.5),(2008.5,0.0),(2008.65,-0.3),(2008.8,-0.1),GAP,(2009.95,-1.9),(2010.0,-0.5),(2010.15,2.5),(2010.35,5.0),(2010.5,5.5),(2010.7,6.5),(2010.9,7.0),(2011.0,7.6),(2011.1,6.5),(2011.2,5.0),(2011.4,3.5),(2011.6,2.8),(2011.75,0.5),(2011.85,-0.6),(2012.05,-0.4),(2012.2,-0.2),(2012.35,-0.3),(2012.5,0.0),(2012.65,-0.7),(2012.75,-0.3),(2012.85,-0.4),(2013.0,0.5),(2013.1,1.0),(2013.3,-0.1),(2013.4,0.5),(2013.5,1.3),(2013.65,0.3),(2013.8,1.0),(2013.95,1.8),(2014.1,2.0),(2014.3,1.6),(2014.45,2.5),(2014.55,2.8),(2014.7,2.5),(2014.85,2.5),(2015.0,3.0),(2015.2,3.2),(2015.4,3.5),(2015.6,3.8),(2015.8,4.7),(2015.95,4.6),(2016.1,4.0),(2016.3,3.2),(2016.5,2.6),(2016.7,2.0),(2016.9,1.5)]

SWITZERLAND = [(1985.3,4.0),(1985.45,4.1),(1985.55,4.2),(1985.75,3.2),(1985.95,3.1),(1986.15,2.5),(1986.3,2.2),(1986.5,2.1),(1986.7,2.0),(1986.9,1.0),(1987.15,1.0),(1987.35,1.0),(1987.65,1.0),(1987.8,1.8),(1988.0,2.7),(1988.2,3.0),(1988.4,3.2),(1988.6,3.1),(1988.8,3.3),(1988.95,3.6),(1989.15,3.8),(1989.35,3.9),(1989.55,4.6),(1989.75,4.6),(1989.95,4.7),(1990.1,5.5),(1990.3,5.2),(1990.5,3.8),(1990.7,2.8),(1990.9,1.5),(1991.15,-0.2),(1991.45,-1.2),(1991.65,-1.0),(1991.8,-0.8),(1992.0,-0.4),(1992.2,0.2),(1992.4,0.4),(1992.6,0.5),(1992.8,0.2),(1992.95,-0.5),(1993.15,-1.0),(1993.35,-1.6),(1993.55,-0.8),(1993.7,0.0),(1993.9,1.0),(1994.1,1.8),(1994.3,1.9),(1994.5,1.0),(1994.7,1.3),(1994.9,1.3),(1995.1,1.2),(1995.25,0.2),(1995.45,0.7),(1995.6,0.6),(1995.8,0.3),(1996.0,0.6),(1996.2,1.3),(1996.35,1.0),(1996.55,0.5),(1996.75,-0.3),(1996.9,-0.1),(1997.1,0.2),(1997.3,0.5),(1997.6,1.0),(1997.8,1.5),(1998.0,3.2),(1998.2,3.5),(1998.35,3.6),(1998.55,3.7),(1998.75,3.9),(1998.95,3.3),(1999.15,2.5),(1999.35,1.9),(1999.5,1.1),(1999.7,0.8),(1999.9,0.6),(2000.05,2.0),(2000.2,3.8),(2000.35,4.5),(2000.55,4.2),(2000.75,4.2),(2000.95,3.5),(2001.15,2.8),(2001.45,2.0),(2001.6,1.5),(2001.8,0.7),(2002.0,0.0),(2002.2,0.0),(2002.4,0.3),(2002.6,0.0),(2002.8,0.5),(2003.0,0.4),(2003.1,0.0),(2003.3,-0.7),(2003.5,-0.7),(2003.65,0.0),(2003.85,1.5),(2004.05,2.5),(2004.25,3.2),(2004.4,3.3),(2004.6,2.5),(2004.8,1.5),(2005.0,2.0),(2005.15,2.5),(2005.35,3.2),(2005.55,3.8),(2005.75,4.2),(2005.95,4.1),(2006.15,3.8),(2006.35,3.6),(2006.55,4.3),(2006.75,4.0),(2006.95,4.3),(2007.1,4.4),(2007.3,4.2),(2007.5,3.4),(2007.7,3.3),(2007.9,3.0),(2008.1,2.5),(2008.3,2.0),(2008.5,1.0),(2008.6,0.0),(2008.7,-0.2),GAP,(2009.95,-0.3),(2010.15,2.0),(2010.3,3.0),(2010.55,2.5),(2010.7,3.2),(2010.9,2.5),(2011.05,3.1),(2011.25,2.8),(2011.45,2.2),(2011.65,2.0),(2011.8,1.5),(2012.0,1.3),(2012.2,1.0),(2012.4,0.7),(2012.6,1.0),(2012.8,1.4),(2013.0,1.0),(2013.2,1.5),(2013.4,1.8),(2013.55,2.0),(2013.75,2.1),(2013.95,2.3),(2014.2,2.3),(2014.5,2.3),(2014.75,2.5),(2015.0,3.0),(2015.15,2.3),(2015.35,1.5),(2015.55,1.2),(2015.8,1.0),(2016.0,0.7),(2016.2,1.5),(2016.35,1.8),(2016.55,1.7),(2016.75,1.5),(2016.95,1.2)]

UNITED_KINGDOM = [(1985.1,2.6),(1985.3,5.5),(1985.55,5.0),(1985.75,3.4),(1986.0,3.5),(1986.3,2.3),(1986.6,2.4),(1986.9,4.0),(1987.2,4.0),(1987.4,5.1),(1987.6,6.4),(1987.8,6.0),(1988.0,6.4),(1988.2,6.7),(1988.4,6.0),(1988.6,5.0),(1988.8,4.7),(1989.1,3.5),(1989.3,2.5),(1989.5,1.4),(1989.8,1.5),(1990.1,1.4),(1990.4,0.5),(1990.7,-0.1),(1991.0,-1.3),(1991.3,-1.8),(1991.6,-1.0),(1991.9,-0.4),(1992.2,-0.3),(1992.5,-0.2),(1992.8,1.0),(1993.2,2.2),(1993.6,2.6),(1993.9,2.8),(1994.2,3.1),(1994.5,3.9),(1994.8,4.2),(1995.0,4.0),(1995.3,2.3),(1995.7,2.1),(1995.9,2.5),(1996.2,2.4),(1996.5,4.0),(1996.8,4.3),(1997.1,4.3),(1997.3,3.3),(1997.6,3.3),(1997.9,3.5),(1998.1,3.3),(1998.4,2.4),(1998.6,3.4),(1998.9,3.5),(1999.2,3.2),(1999.5,3.6),(1999.8,4.0),(2000.2,4.6),(2000.5,3.5),(2000.7,2.0),(2001.0,2.3),(2001.3,2.8),(2001.6,3.0),(2001.9,3.3),(2002.1,2.5),(2002.4,2.4),(2002.7,2.6),(2003.0,3.0),(2003.4,3.2),(2003.8,3.5),(2004.2,3.4),(2004.5,3.3),(2004.8,2.7),(2005.2,1.5),(2005.5,1.6),(2005.8,2.3),(2006.1,3.5),(2006.3,4.7),(2006.6,4.2),(2006.8,3.3),(2007.1,1.8),(2007.3,1.0),(2007.6,1.8),(2007.9,2.5),(2008.1,3.1),(2008.3,3.4),(2008.5,2.3),(2008.7,-1.0),GAP,(2010.0,-1.3),(2010.15,0.5),(2010.35,1.8),(2010.6,2.2),(2010.8,2.0),(2011.0,2.3),(2011.2,1.6),(2011.5,1.3),(2011.8,1.3),(2012.0,1.2),(2012.3,1.8),(2012.5,1.5),(2012.8,1.6),(2013.1,2.0),(2013.4,1.8),(2013.6,2.3),(2013.9,2.5),(2014.2,2.8),(2014.5,2.9),(2014.9,3.0),(2015.2,3.0),(2015.5,2.8),(2015.8,2.4),(2016.1,2.2),(2016.4,2.2),(2016.7,1.8),(2016.9,1.8)]

UNITED_STATES = [(1985.3,4.5),(1985.45,3.7),(1985.6,4.2),(1985.8,4.2),(1986.0,4.2),(1986.2,4.0),(1986.4,3.6),(1986.6,3.2),(1986.8,2.9),(1987.0,2.8),(1987.15,2.8),(1987.3,3.0),(1987.5,3.3),(1987.7,3.3),(1987.85,4.0),(1988.0,4.1),(1988.2,4.2),(1988.4,4.0),(1988.6,4.0),(1988.8,3.6),(1988.95,3.8),(1989.15,4.1),(1989.35,3.8),(1989.55,3.6),(1989.7,3.5),(1989.85,2.8),(1990.05,2.6),(1990.25,2.4),(1990.45,1.8),(1990.65,0.8),(1990.85,-0.3),(1991.05,-0.8),(1991.2,-0.8),(1991.3,-0.4),(1991.5,0.0),(1991.7,0.8),(1991.9,2.8),(1992.1,3.0),(1992.3,3.4),(1992.5,3.8),(1992.7,4.2),(1992.85,4.0),(1993.0,3.5),(1993.2,3.0),(1993.4,2.6),(1993.6,2.3),(1993.8,2.6),(1994.0,3.0),(1994.2,3.8),(1994.4,4.2),(1994.55,4.2),(1994.75,4.0),(1995.0,3.5),(1995.15,3.0),(1995.3,2.3),(1995.45,2.5),(1995.65,2.6),(1995.85,2.4),(1996.05,2.4),(1996.2,3.0),(1996.35,4.0),(1996.55,4.2),(1996.75,4.2),(1996.95,4.4),(1997.15,4.5),(1997.4,4.5),(1997.6,4.6),(1997.75,4.4),(1997.95,4.7),(1998.2,4.6),(1998.35,4.6),(1998.4,4.3),(1998.55,4.5),(1998.75,4.5),(1998.95,4.8),(1999.15,4.8),(1999.35,4.8),(1999.55,4.8),(1999.75,4.6),(1999.9,4.9),(2000.0,4.3),(2000.15,4.7),(2000.25,4.8),(2000.35,5.1),(2000.5,5.0),(2000.6,4.5),(2000.8,3.8),(2001.0,3.0),(2001.2,2.5),(2001.4,1.8),(2001.6,0.8),(2001.8,0.4),(2002.0,0.2),(2002.15,1.0),(2002.25,1.4),(2002.45,1.3),(2002.65,2.1),(2002.85,2.1),(2003.05,1.8),(2003.25,1.9),(2003.4,1.8),(2003.6,2.2),(2003.8,4.0),(2004.0,4.4),(2004.2,4.3),(2004.4,4.0),(2004.55,3.3),(2004.75,3.4),(2004.95,3.2),(2005.15,3.5),(2005.35,3.4),(2005.55,3.1),(2005.75,3.2),(2005.95,3.0),(2006.15,3.0),(2006.3,2.8),(2006.5,2.3),(2006.7,2.5),(2006.9,2.4),(2007.1,1.6),(2007.3,1.9),(2007.5,2.0),(2007.6,2.2),(2007.75,2.0),(2007.9,1.7),(2008.1,1.2),(2008.3,1.0),(2008.45,0.7),(2008.6,0.3),(2008.8,0.0),GAP,(2009.95,0.3),(2010.15,2.1),(2010.35,2.8),(2010.55,3.2),(2010.75,3.0),(2010.95,2.3),(2011.15,2.3),(2011.35,1.8),(2011.55,1.5),(2011.75,1.5),(2011.9,2.5),(2012.1,2.8),(2012.3,2.5),(2012.5,2.7),(2012.7,2.6),(2012.85,2.0),(2013.05,1.5),(2013.25,1.6),(2013.45,1.8),(2013.65,1.6),(2013.75,2.2),(2013.9,2.6),(2014.05,2.2),(2014.15,1.8),(2014.35,2.4),(2014.55,2.6),(2014.75,2.7),(2014.9,2.8),(2015.05,2.9),(2015.2,3.5),(2015.3,3.2),(2015.45,3.0),(2015.65,2.1),(2015.85,1.9),(2016.05,1.6),(2016.25,1.5),(2016.45,1.3),(2016.65,1.4),(2016.9,1.8)]

COUNTRIES = ["Australia", "Austria", "Belgium", "Canada", "Denmark", "France",
             "Germany", "Ireland", "Italy", "Japan", "Netherlands", "New Zealand",
             "Norway", "Portugal", "Sweden", "Switzerland", "United Kingdom", "United States"]
SERIES = [AUSTRALIA, AUSTRIA, BELGIUM, CANADA, DENMARK, FRANCE,
          GERMANY, IRELAND, ITALY, JAPAN, NETHERLANDS, NEW_ZEALAND,
          NORWAY, PORTUGAL, SWEDEN, SWITZERLAND, UNITED_KINGDOM, UNITED_STATES]

X_MAJOR = [1990, 2000, 2010]
X_MINOR = [1985, 1995, 2005, 2015]
Y_MAJOR = [0, 5, 10]
Y_MINOR = [-2.5, 2.5, 7.5, 12.5]
X_LIMITS = (1983.6, 2018.6)
Y_LIMITS = (-3.1, 13.35)

# layout
NCOLS, NROWS = 3, 6
FWS = [351, 350, 347]     # panel frame widths per column
LEFTS = [34, 10, 9]       # left borders per column
PH = 181                  # panel frame height
SH = 27                   # strip height
TOP = 5
GAP_Y = 10
BOTTOM = 26
FONT = "Liberation Sans"
BORDER = "#333333"
GRID = "#EBEBEB"


def split(points):
    xs, ys = [], []
    for pt in points:
        if pt is None:
            xs.append(float("nan"))
            ys.append(float("nan"))
        else:
            xs.append(pt[0])
            ys.append(pt[1])
    return xs, ys


def make_strip(name, r, c):
    s = figure(frame_width=FWS[c], frame_height=SH, x_range=Range1d(0, 1), y_range=Range1d(0, 1),
               x_axis_location=None, y_axis_location=None, title=None,
               toolbar_location=None, output_backend="svg",
               min_border=0, min_border_left=LEFTS[c],
               min_border_top=(TOP if r == 0 else GAP_Y), min_border_right=0, min_border_bottom=0,
               background_fill_color="#D9D9D9", border_fill_color="white",
               outline_line_color=BORDER, outline_line_width=1)
    s.xgrid.visible = False
    s.ygrid.visible = False
    s.text(x=[0.5], y=[0.5], text=[name], text_align="center", text_baseline="middle",
           text_font=value(FONT), text_font_size="14.5px", text_color="#1A1A1A")
    return s


def make_panel(points, r, c):
    last = (r == NROWS - 1)
    p = figure(frame_width=FWS[c], frame_height=PH,
               x_range=Range1d(*X_LIMITS), y_range=Range1d(*Y_LIMITS),
               x_axis_location=("below" if last else None),
               y_axis_location=("left" if c == 0 else None), title=None,
               toolbar_location=None, output_backend="svg",
               min_border=0, min_border_left=LEFTS[c],
               min_border_top=0, min_border_right=0,
               min_border_bottom=(BOTTOM if last else 0),
               background_fill_color="white", border_fill_color="white",
               outline_line_color=BORDER, outline_line_width=1)
    p.xgrid.ticker = FixedTicker(ticks=X_MAJOR, minor_ticks=X_MINOR)
    p.ygrid.ticker = FixedTicker(ticks=Y_MAJOR, minor_ticks=Y_MINOR)
    for g in (p.xgrid, p.ygrid):
        g.grid_line_color = GRID
        g.grid_line_width = 1.2
        g.minor_grid_line_color = GRID
        g.minor_grid_line_width = 0.8
    axes = []
    if last:
        p.xaxis.ticker = FixedTicker(ticks=X_MAJOR)
        p.xaxis.major_label_standoff = 4
        axes.append(p.xaxis)
    if c == 0:
        p.yaxis.ticker = FixedTicker(ticks=Y_MAJOR)
        p.yaxis.major_label_standoff = 3
        axes.append(p.yaxis)
    for ax in axes:
        ax.axis_line_color = None
        ax.major_tick_in = 0
        ax.major_tick_out = 4
        ax.major_tick_line_color = BORDER
        ax.minor_tick_line_color = None
        ax.major_label_text_font = FONT
        ax.major_label_text_font_size = "14px"
        ax.major_label_text_color = "#4D4D4D"
    xs, ys = split(points)
    p.line(xs, ys, line_color="black", line_width=1.8, line_join="round")
    return p


rows = []
for r in range(NROWS):
    strip_row, panel_row = [], []
    for c in range(NCOLS):
        i = r * NCOLS + c
        strip_row.append(make_strip(COUNTRIES[i], r, c))
        panel_row.append(make_panel(SERIES[i], r, c))
    rows.append(strip_row)
    rows.append(panel_row)

grid = gridplot(rows, toolbar_location=None)

open("out.html", "w").write(file_html(grid, INLINE))
